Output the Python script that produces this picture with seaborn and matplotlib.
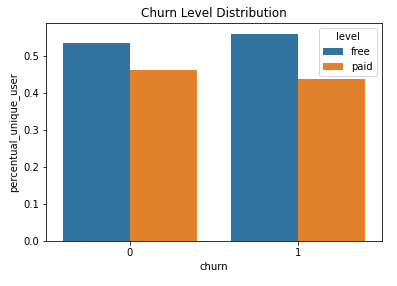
import matplotlib
matplotlib.use("Agg")
import matplotlib.pyplot as plt
import seaborn as sns
import pandas as pd

churn = [0, 0, 1, 1]
level = ["free", "paid", "free", "paid"]
percentual_unique_user = [0.537, 0.463, 0.561, 0.439]

df = pd.DataFrame({"churn": churn, "level": level,
                   "percentual_unique_user": percentual_unique_user})

fig = plt.figure(figsize=(397/72, 286/72), dpi=72)
ax = fig.add_axes([46/397, 45/286, (381.7-46)/397, (241-23.3)/286])
sns.barplot(data=df, x="churn", y="percentual_unique_user", hue="level",
            palette=["#1f77b4", "#ff7f0e"], saturation=0.75, ax=ax)
ax.set_title("Churn Level Distribution")
ax.legend(title="level", loc="upper right")
fig.savefig("out.png", dpi=72)
